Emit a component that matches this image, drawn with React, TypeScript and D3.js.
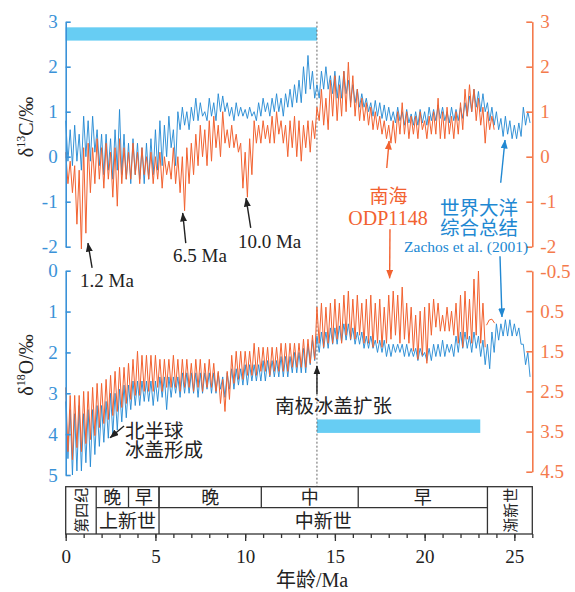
import React, { useRef, useEffect } from 'react';
import * as d3 from 'd3';

// one bin every 0.25 Ma, upper / lower edge of the noisy record
const STEP = 0.25;

// δ13C, global compilation (Zachos et al. 2001), 0 - 26 Ma
const c13GlobalHi = [
  0.8, 0.6, 0.7, 0.5, 0.9, 0.8, 0.9, 0.6, 0.5, 0.5, 0.4, 0.6,
  1.05, 0.5, 0.3, 0.4, 0.3, 0.2, 0.3, 0.4, 0.6, 0.8, 0.7, 0.9,
  0.6, 1.0, 1.1, 1.0, 1.1, 1.3, 1.2, 1.0, 1.3, 1.2, 1.4, 1.35,
  1.2, 1.1, 1.2, 1.1, 1.05, 1.1, 1.0, 1.2, 1.3, 1.2, 1.3, 1.4,
  1.3, 1.4, 1.5, 1.6, 1.7, 2.0, 2.25, 1.9, 1.6, 1.9, 2.0, 1.8,
  1.9, 1.8, 1.9, 1.7, 1.6, 1.5, 1.4, 1.3, 1.2, 1.25, 1.2, 1.15,
  1.1, 1.0, 1.1, 1.0, 1.05, 0.95, 1.0, 1.05, 1.0, 1.1, 1.05, 1.15,
  1.1, 1.0, 1.1, 1.05, 1.1, 1.2, 1.35, 1.5, 1.45, 1.4, 1.2, 1.1,
  1.0, 0.85, 0.9, 0.8, 0.7, 0.75, 1.1, 1.0,
];
const c13GlobalLo = [
  -0.1, -0.2, -0.1, -0.3, 0.0, -0.1, 0.1, -0.2, -0.4, -0.3, -0.5, -0.3,
  -0.4, -0.5, -0.6, -0.4, -0.5, -0.6, -0.5, -0.4, -0.3, -0.2, 0.0, 0.2,
  -0.2, 0.6, 0.7, 0.6, 0.8, 0.8, 0.9, 0.8, 0.9, 0.8, 1.0, 1.0,
  0.9, 0.8, 0.9, 0.9, 0.85, 0.9, 0.8, 0.9, 1.0, 0.9, 1.0, 1.0,
  0.9, 1.1, 1.1, 1.2, 1.2, 1.4, 1.5, 1.3, 1.3, 1.5, 1.5, 1.4,
  1.3, 1.3, 1.4, 1.2, 1.2, 1.1, 1.1, 1.0, 0.9, 0.9, 0.85, 0.8,
  0.8, 0.75, 0.8, 0.7, 0.75, 0.7, 0.7, 0.75, 0.7, 0.8, 0.8, 0.85,
  0.8, 0.75, 0.8, 0.8, 0.85, 0.9, 1.0, 1.1, 1.0, 1.0, 0.8, 0.7,
  0.6, 0.45, 0.5, 0.4, 0.4, 0.45, 0.7, 0.75,
];

// δ13C, South China Sea ODP1148, 0 - 24 Ma
const c13OdpHi = [
  0.1, -0.1, -0.2, -0.3, 0.2, 0.3, 0.2, 0.4, 0.2, 0.3, 0.1, 0.2,
  0.4, 0.2, 0.1, 0.3, 0.1, 0.2, 0.0, 0.1, 0.0, 0.1, 0.0, -0.1,
  0.2, 0.0, 0.0, 0.2, 0.3, 0.5, 0.7, 0.6, 0.8, 0.9, 0.7, 1.0,
  0.6, 0.7, 0.5, 0.3, 0.1, 0.4, 0.8, 0.7, 0.8, 0.7, 0.9, 1.0,
  0.8, 0.7, 0.8, 0.9, 0.8, 0.7, 0.8, 0.8, 1.1, 1.5, 1.3, 1.7,
  1.8, 1.6, 1.9, 2.1, 1.8, 1.5, 1.3, 1.2, 1.1, 1.0, 0.9, 0.8,
  0.7, 0.8, 1.0, 1.2, 1.0, 0.9, 0.9, 1.0, 0.8, 0.9, 1.0, 1.3,
  1.0, 1.1, 0.9, 1.0, 1.2, 1.5, 1.6, 1.5, 1.3, 1.1, 1.0, 0.9,
];
const c13OdpLo = [
  -0.6, -0.8, -1.5, -2.05, -1.7, -0.8, -0.6, -0.5, -0.7, -0.5, -0.9, -1.1,
  -0.6, -0.5, -0.5, -0.4, -0.6, -0.4, -0.5, -0.6, -0.5, -0.7, -0.4, -0.5,
  -0.6, -0.8, -1.2, -0.6, -0.4, -0.2, 0.0, -0.2, -0.1, 0.2, 0.0, 0.3,
  0.2, 0.2, 0.1, -0.7, -0.9, -0.4, 0.3, 0.3, 0.4, 0.3, 0.3, 0.5,
  0.3, 0.0, 0.2, 0.0, -0.1, 0.2, 0.1, 0.4, 0.8, 0.7, 0.6, 0.9,
  0.8, 0.9, 1.0, 1.1, 0.9, 0.8, 0.8, 0.7, 0.6, 0.6, 0.5, 0.4,
  0.3, 0.3, 0.5, 0.5, 0.4, 0.5, 0.4, 0.6, 0.4, 0.5, 0.5, 0.4,
  0.4, 0.5, 0.4, 0.5, 0.6, 0.9, 1.0, 0.8, 0.7, 0.3, 0.6, 0.6,
];

// δ18O, global compilation, 0 - 26 Ma (left axis)
const o18GlobalLight = [
  3.2, 3.4, 3.5, 3.3, 3.5, 3.4, 3.4, 3.3, 3.3, 3.2, 3.0, 3.0,
  2.9, 2.8, 2.8, 2.7, 2.7, 2.7, 2.7, 2.7, 2.7, 2.6, 2.6, 2.6,
  2.6, 2.6, 2.5, 2.5, 2.5, 2.5, 2.5, 2.5, 2.5, 2.5, 2.5, 2.6,
  2.5, 2.4, 2.4, 2.4, 2.3, 2.3, 2.3, 2.3, 2.2, 2.2, 2.2, 2.2,
  2.1, 2.1, 2.1, 2.0, 2.0, 1.9, 1.8, 1.7, 1.6, 1.5, 1.5, 1.4,
  1.4, 1.35, 1.3, 1.3, 1.4, 1.5, 1.5, 1.6, 1.6, 1.7, 1.7, 1.7,
  1.8, 1.8, 1.8, 1.8, 1.8, 1.9, 1.9, 1.9, 2.0, 1.9, 1.8, 1.8,
  1.7, 1.8, 1.8, 1.6, 1.5, 1.5, 1.6, 1.5, 1.6, 1.7, 1.8, 1.5,
  1.3, 1.3, 1.2, 1.2, 1.3, 1.4, 1.8, 2.0,
];
const o18GlobalHeavy = [
  4.6, 5.0, 4.9, 4.9, 4.7, 4.8, 4.5, 4.3, 4.2, 4.1, 4.0, 3.9,
  3.7, 3.6, 3.4, 3.3, 3.3, 3.2, 3.2, 3.3, 3.2, 3.1, 3.4, 3.1,
  3.0, 3.1, 3.0, 3.0, 3.0, 3.1, 3.0, 2.9, 3.0, 3.0, 2.9, 3.1,
  2.9, 2.9, 2.8, 2.8, 2.8, 2.7, 2.7, 2.7, 2.7, 2.6, 2.6, 2.6,
  2.6, 2.6, 2.5, 2.5, 2.5, 2.5, 2.3, 2.2, 2.0, 1.9, 1.9, 1.8,
  1.8, 1.75, 1.7, 1.7, 1.8, 1.8, 1.9, 1.9, 1.9, 2.0, 2.0, 2.1,
  2.1, 2.0, 2.0, 2.1, 2.1, 2.1, 2.2, 2.1, 2.2, 2.2, 2.1, 2.1,
  2.1, 2.0, 2.1, 2.0, 1.9, 1.9, 2.0, 1.9, 2.1, 2.3, 2.4, 2.0,
  1.7, 1.6, 1.6, 1.6, 1.6, 1.8, 2.3, 2.6,
];

// δ18O, ODP1148, 0 - 23.25 Ma (right axis) and its short piece near 24 Ma
const o18OdpLight = [
  2.4, 2.6, 2.6, 2.6, 2.5, 2.5, 2.4, 2.3, 2.3, 2.2, 2.1, 2.0,
  1.9, 1.9, 1.8, 1.7, 1.5, 1.6, 1.6, 1.6, 1.6, 1.7, 1.7, 1.7,
  1.6, 1.7, 1.7, 1.7, 1.8, 1.7, 1.7, 1.8, 1.7, 1.8, 2.0, 2.2,
  2.0, 1.6, 1.5, 1.5, 1.5, 1.5, 1.3, 1.4, 1.4, 1.4, 1.4, 1.4,
  1.3, 1.3, 1.3, 1.3, 1.3, 1.2, 1.2, 1.1, 0.4, 0.3, 0.4, 0.3,
  0.2, 0.3, 0.1, 0.0, 0.2, 0.1, 0.3, 0.2, 0.1, 0.3, 0.2, 0.4,
  0.1, 0.0, 0.1, -0.1, 0.3, 0.4, 0.6, 0.5, 0.4, 0.3, 0.2, 0.3,
  0.6, 0.4, 0.5, 0.3, 0.1, 0.0, 0.2, -0.3, -0.5, 0.3,
];
const o18OdpHeavy = [
  4.0, 4.2, 3.9, 4.0, 3.8, 3.7, 3.6, 3.4, 3.3, 3.2, 3.1, 3.0,
  2.9, 2.8, 2.7, 2.6, 2.6, 2.5, 2.5, 2.5, 2.4, 2.5, 2.4, 2.4,
  2.4, 2.5, 2.4, 2.4, 2.5, 2.4, 2.5, 2.4, 2.4, 2.5, 2.8, 3.0,
  2.7, 2.3, 2.2, 2.2, 2.1, 2.1, 2.1, 2.0, 2.0, 2.1, 2.0, 2.0,
  2.0, 2.0, 1.9, 1.9, 1.9, 1.9, 1.8, 1.7, 1.3, 1.4, 1.3, 1.3,
  1.2, 1.3, 1.1, 1.2, 1.2, 1.1, 1.3, 1.3, 1.4, 1.3, 1.4, 1.3,
  1.2, 1.1, 1.3, 1.2, 1.3, 1.5, 1.7, 1.6, 1.8, 1.1, 0.9, 1.0,
  1.0, 1.0, 1.1, 1.3, 1.4, 1.2, 1.3, 1.1, 1.3, 1.4,
];
const o18OdpTailAge = [23.45, 23.6, 23.75, 23.9];
const o18OdpTailVal = [0.85, 0.72, 0.7, 0.8];

const c13Ticks = [-2, -1, 0, 1, 2, 3];
const o18LeftTicks = [0, 1, 2, 3, 4, 5];
const o18RightTicks = [-0.5, 0.5, 1.5, 2.5, 3.5, 4.5];
const ageTicks = [0, 5, 10, 15, 20, 25];

// geological time scale (Ma)
const stageRow = [
  { label: '晚', from: 1.7, to: 3.5 },
  { label: '早', from: 3.5, to: 5.2 },
  { label: '晚', from: 5.2, to: 10.9 },
  { label: '中', from: 10.9, to: 16.3 },
  { label: '早', from: 16.3, to: 23.5 },
];
const epochRow = [
  { label: '上新世', from: 1.7, to: 5.2 },
  { label: '中新世', from: 5.2, to: 23.5 },
];
const fullCells = [
  { label: '第四纪', from: 0, to: 1.7 },
  { label: '渐新世', from: 23.5, to: 26 },
];
const iceEvent = 14;

const W = 575;
const H = 592;
const FONT = "'Liberation Serif', 'DejaVu Serif', 'Noto Sans CJK SC', serif";
const BLUE = '#2188d2';
const ORANGE = '#f26230';
const BLUE_AXIS = '#3a92d8';
const ORANGE_AXIS = '#f47a4c';
const BAR = '#67cdf3';
const INK = '#222';

export default function App() {
  const svgRef = useRef<SVGSVGElement>(null);

  useEffect(() => {
    const svg = d3.select(svgRef.current);
    svg.selectAll('*').remove();

    const x = d3.scaleLinear().domain([0, 26]).range([65.7, 532.3]);
    const yC = d3.scaleLinear().domain([-2, 3]).range([246.7, 21.7]);
    const yO = d3.scaleLinear().domain([0, 5]).range([270.7, 475]);
    const yOR = d3.scaleLinear().domain([-0.5, 4.5]).range([271, 471.7]);

    const tableTop = 486.7;
    const tableMid = 507.7;
    const tableBottom = 534;

    // markers
    const defs = svg.append('defs');
    [['black', INK], ['orange', ORANGE], ['blue', BLUE]].forEach(([id, c]) => {
      defs.append('marker')
        .attr('id', `ah-${id}`)
        .attr('markerUnits', 'userSpaceOnUse')
        .attr('markerWidth', 9)
        .attr('markerHeight', 7)
        .attr('refX', 8.5)
        .attr('refY', 3.5)
        .attr('orient', 'auto')
        .append('path')
        .attr('d', 'M0,0L9,3.5L0,7Z')
        .attr('fill', c);
    });

    // light blue bars
    svg.append('rect')
      .attr('x', x(0)).attr('width', x(iceEvent) - x(0))
      .attr('y', yC(2.875)).attr('height', yC(2.58) - yC(2.875))
      .attr('fill', BAR);
    svg.append('rect')
      .attr('x', x(iceEvent)).attr('width', x(23.1) - x(iceEvent))
      .attr('y', yO(3.64)).attr('height', yO(3.97) - yO(3.64))
      .attr('fill', BAR);

    // dotted line at 14 Ma
    svg.append('line')
      .attr('x1', x(iceEvent)).attr('x2', x(iceEvent))
      .attr('y1', yC(3)).attr('y2', tableTop)
      .attr('stroke', '#666').attr('stroke-width', 1)
      .attr('stroke-dasharray', '2,2');

    // records
    const zig = (hi: number[], lo: number[], t0 = 0) =>
      hi.flatMap((h, i) => [[t0 + i * STEP, h], [t0 + i * STEP + STEP / 2, lo[i]]]);

    const draw = (pts: number[][], y: d3.ScaleLinear<number, number>, color: string, w: number) => {
      const line = d3.line<number[]>().x(d => x(d[0])).y(d => y(d[1]));
      svg.append('path')
        .attr('d', line(pts))
        .attr('fill', 'none')
        .attr('stroke', color)
        .attr('stroke-width', w)
        .attr('stroke-linejoin', 'round');
    };

    draw(zig(c13GlobalHi, c13GlobalLo), yC, BLUE, 0.9);
    draw(zig(c13OdpHi, c13OdpLo), yC, ORANGE, 1);
    draw(zig(o18GlobalLight, o18GlobalHeavy), yO, BLUE, 0.9);
    draw(zig(o18OdpLight, o18OdpHeavy), yOR, ORANGE, 1);
    draw(o18OdpTailAge.map((a, i) => [a, o18OdpTailVal[i]]), yOR, ORANGE, 1);

    // axes
    const styleAxis = (g: any, color: string) => {
      g.attr('font-family', FONT).attr('font-size', 19);
      g.select('.domain').attr('stroke', color).attr('stroke-width', 1.6);
      g.selectAll('.tick line').attr('stroke', color).attr('stroke-width', 1.6);
      g.selectAll('.tick text').attr('fill', color);
    };
    const fmt = (d: any) => String(d);

    styleAxis(svg.append('g')
      .attr('transform', `translate(${x(0)},0)`)
      .call(d3.axisLeft(yC).tickValues(c13Ticks).tickSizeInner(-5).tickSizeOuter(0).tickPadding(8).tickFormat(fmt)), BLUE_AXIS);
    styleAxis(svg.append('g')
      .attr('transform', `translate(${x(0)},0)`)
      .call(d3.axisLeft(yO).tickValues(o18LeftTicks).tickSizeInner(-5).tickSizeOuter(0).tickPadding(8).tickFormat(fmt)), BLUE_AXIS);
    styleAxis(svg.append('g')
      .attr('transform', `translate(${x(26)},0)`)
      .call(d3.axisRight(yC).tickValues(c13Ticks).tickSizeInner(-6).tickSizeOuter(0).tickPadding(8).tickFormat(fmt)), ORANGE_AXIS);
    styleAxis(svg.append('g')
      .attr('transform', `translate(${x(26)},0)`)
      .call(d3.axisRight(yOR).tickValues(o18RightTicks).tickSizeInner(-6).tickSizeOuter(0).tickPadding(8).tickFormat(fmt)), ORANGE_AXIS);

    // axis titles
    const yTitle = (cx: number, cy: number, sup: string) => {
      const t = svg.append('text')
        .attr('transform', `translate(${cx},${cy}) rotate(-90)`)
        .attr('text-anchor', 'middle')
        .attr('font-family', FONT)
        .attr('font-size', 20)
        .attr('fill', INK);
      t.append('tspan').text('δ');
      t.append('tspan').attr('font-size', 12).attr('dy', -8).text(sup);
      t.append('tspan').attr('dy', 8).text(sup === '13' ? 'C/‰' : 'O/‰');
    };
    yTitle(33, 127, '13');
    yTitle(33, 365, '18');

    // time scale table
    const tbl = svg.append('g').attr('stroke', '#333').attr('stroke-width', 1.3).attr('fill', 'none');
    tbl.append('rect')
      .attr('x', x(0)).attr('y', tableTop)
      .attr('width', x(26) - x(0)).attr('height', tableBottom - tableTop);
    tbl.append('line')
      .attr('x1', x(1.7)).attr('x2', x(23.5))
      .attr('y1', tableMid).attr('y2', tableMid);
    stageRow.slice(1).forEach(s => {
      tbl.append('line').attr('x1', x(s.from)).attr('x2', x(s.from)).attr('y1', tableTop).attr('y2', tableMid);
    });
    [1.7, 5.2, 23.5].forEach(a => {
      tbl.append('line').attr('x1', x(a)).attr('x2', x(a)).attr('y1', tableTop).attr('y2', tableBottom);
    });

    const cellText = (label: string, cx: number, cy: number, size: number, rotate = false) => {
      svg.append('text')
        .attr('transform', `translate(${cx},${cy})${rotate ? ' rotate(-90)' : ''}`)
        .attr('text-anchor', 'middle')
        .attr('dominant-baseline', 'central')
        .attr('font-family', FONT)
        .attr('font-size', size)
        .attr('fill', INK)
        .text(label);
    };
    stageRow.forEach(s => cellText(s.label, (x(s.from) + x(s.to)) / 2, (tableTop + tableMid) / 2 + 0.5, 18));
    epochRow.forEach(s => cellText(s.label, (x(s.from) + x(s.to)) / 2, (tableMid + tableBottom) / 2 + 0.5, 19));
    fullCells.forEach(s => cellText(s.label, (x(s.from) + x(s.to)) / 2 + 1, (tableTop + tableBottom) / 2, 15, true));

    // age axis
    const gMinor = svg.append('g')
      .attr('transform', `translate(0,${tableBottom})`)
      .call(d3.axisBottom(x).tickValues(d3.range(0, 27)).tickSizeInner(4).tickSizeOuter(0).tickFormat(() => ''));
    gMinor.select('.domain').remove();
    gMinor.selectAll('.tick line').attr('stroke', '#333').attr('stroke-width', 1.3);
    const gMajor = svg.append('g')
      .attr('transform', `translate(0,${tableBottom})`)
      .call(d3.axisBottom(x).tickValues(ageTicks).tickSizeInner(7).tickSizeOuter(0).tickPadding(9).tickFormat(fmt));
    gMajor.select('.domain').remove();
    gMajor.attr('font-family', FONT).attr('font-size', 19);
    gMajor.selectAll('.tick line').attr('stroke', '#333').attr('stroke-width', 1.3);
    gMajor.selectAll('.tick text').attr('fill', INK);

    svg.append('text')
      .attr('x', 312).attr('y', 587)
      .attr('text-anchor', 'middle')
      .attr('font-family', FONT).attr('font-size', 20).attr('fill', INK)
      .text('年龄/Ma');

    // annotations: [age, value] pairs on the panel's own scale
    const arrow = (y: d3.ScaleLinear<number, number>, a1: number, v1: number, a2: number, v2: number, id: string, color: string) => {
      svg.append('line')
        .attr('x1', x(a1)).attr('y1', y(v1))
        .attr('x2', x(a2)).attr('y2', y(v2))
        .attr('stroke', color).attr('stroke-width', 1.4)
        .attr('marker-end', `url(#ah-${id})`);
    };
    const label = (y: d3.ScaleLinear<number, number>, a: number, v: number, text: string, color: string, size: number, anchor = 'start') => {
      svg.append('text')
        .attr('x', x(a)).attr('y', y(v))
        .attr('text-anchor', anchor)
        .attr('font-family', FONT).attr('font-size', size).attr('fill', color)
        .text(text);
    };

    arrow(yC, 1.47, -2.47, 1.24, -1.92, 'black', INK);
    label(yC, 0.8, -2.9, '1.2 Ma', INK, 19);
    arrow(yC, 6.69, -1.92, 6.52, -1.25, 'black', INK);
    label(yC, 5.98, -2.34, '6.5 Ma', INK, 19);
    arrow(yC, 10.31, -1.58, 10.05, -0.92, 'black', INK);
    label(yC, 9.6, -2.02, '10.0 Ma', INK, 19);

    arrow(yC, 17.89, -0.25, 18.02, 0.35, 'orange', ORANGE);
    label(yC, 17.99, -1.03, '南海', ORANGE, 19, 'middle');
    label(yC, 17.96, -1.52, 'ODP1148', ORANGE, 20, 'middle');
    arrow(yC, 18.07, -1.61, 18.05, -2.70, 'orange', ORANGE);

    arrow(yC, 24.24, -0.58, 24.48, 0.37, 'blue', BLUE);
    label(yC, 23.03, -1.3, '世界大洋', BLUE, 19.5, 'middle');
    label(yC, 23.03, -1.74, '综合总结', BLUE, 19.5, 'middle');
    label(yC, 22.31, -2.12, 'Zachos et al. (2001)', BLUE, 15.5, 'middle');
    arrow(yC, 24.2, -2.21, 24.31, -3.56, 'blue', BLUE);

    arrow(yO, iceEvent, 3.02, iceEvent, 2.33, 'black', INK);
    label(yO, 14.92, 3.48, '南极冰盖扩张', INK, 19.5, 'middle');
    arrow(yO, 3.25, 3.8, 2.47, 4.09, 'black', INK);
    label(yO, 3.3, 4.09, '北半球', INK, 19.5);
    label(yO, 3.3, 4.56, '冰盖形成', INK, 19.5);
  }, []);

  return (
    <svg
      ref={svgRef}
      width={W}
      height={H}
      style={{ position: 'absolute', left: 0, top: 0, background: '#fff' }}
    />
  );
}
